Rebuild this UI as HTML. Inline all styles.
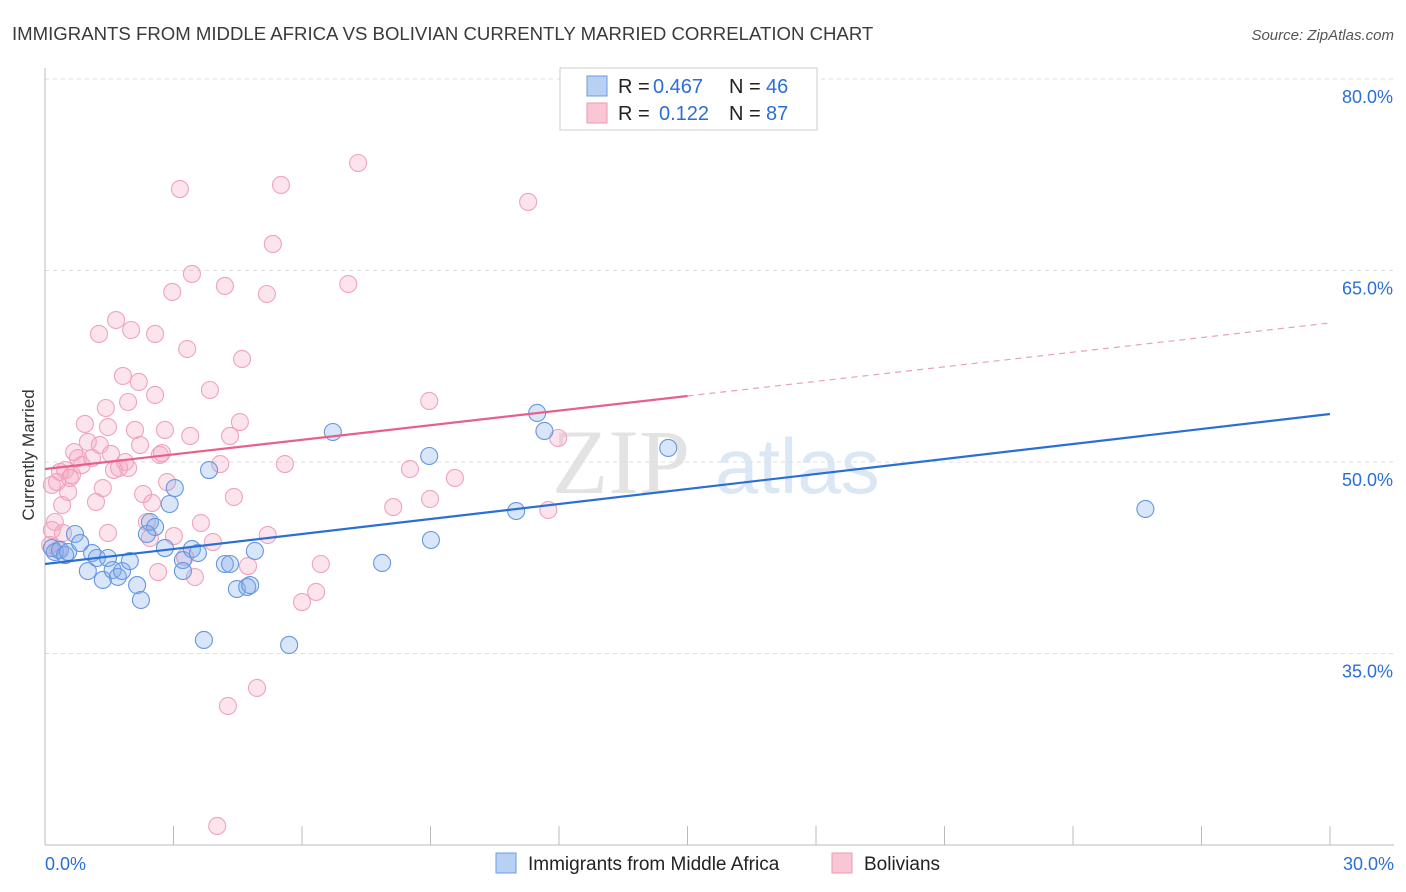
<!DOCTYPE html>
<html><head><meta charset="utf-8"><style>
body{margin:0;background:#fff;font-family:"Liberation Sans",sans-serif;}
svg{display:block}
</style></head><body>
<svg id="chart" width="1406" height="892">
<text x="12" y="40" font-size="18.6" fill="#3a3a3a">IMMIGRANTS FROM MIDDLE AFRICA VS BOLIVIAN CURRENTLY MARRIED CORRELATION CHART</text>
<text x="1394" y="40" font-size="15" fill="#555" font-style="italic" text-anchor="end">Source: ZipAtlas.com</text>
<text x="34" y="455" font-size="17" fill="#333" text-anchor="middle" transform="rotate(-90 34 455)">Currently Married</text>
<g>
<text x="552" y="493" font-size="92" fill="#d8d8d8" font-family="Liberation Serif,serif" opacity="0.7">ZIP</text>
<text x="715" y="493" font-size="78" fill="#c5d8f0" opacity="0.6">atlas</text>
</g>
<g id="grid"></g><g id="axes"></g><g id="pts"></g><g id="lines"></g>
<g>
<rect x="560" y="68" width="257" height="62" fill="#fff" stroke="#ccc"/>
<rect x="587" y="76" width="20" height="20" fill="#b8d0f4" stroke="#6a9de0"/>
<rect x="587" y="103" width="20" height="20" fill="#f8c6d5" stroke="#ee9ab5"/>
<text x="618" y="93" font-size="20" fill="#222">R =</text>
<text x="653" y="93" font-size="20" fill="#2a6fd6">0.467</text>
<text x="729" y="93" font-size="20" fill="#222">N =</text>
<text x="766" y="93" font-size="20" fill="#2a6fd6">46</text>
<text x="618" y="120" font-size="20" fill="#222">R =</text>
<text x="659" y="120" font-size="20" fill="#2a6fd6">0.122</text>
<text x="729" y="120" font-size="20" fill="#222">N =</text>
<text x="766" y="120" font-size="20" fill="#2a6fd6">87</text>
</g>
<g>
<rect x="496" y="853" width="20" height="20" fill="#b8d0f4" stroke="#6a9de0"/>
<text x="528" y="870" font-size="19" fill="#222">Immigrants from Middle Africa</text>
<rect x="832" y="853" width="20" height="20" fill="#f8c6d5" stroke="#ee9ab5"/>
<text x="864" y="870" font-size="19" fill="#222">Bolivians</text>
</g>
</svg>
<script>
const yTicks=[35,50,65,80];
const xTickLabels=["0.0%","30.0%"];
const blueX=[0.16,0.23,0.35,0.47,0.54,0.70,0.82,1.00,1.10,1.21,1.35,1.47,1.58,1.70,1.80,1.98,2.15,2.24,2.45,2.57,2.38,2.80,2.91,3.03,3.22,3.22,3.43,3.57,3.71,3.83,4.20,4.32,4.48,4.72,4.79,4.90,5.70,6.72,7.87,8.97,9.01,11.00,11.49,11.66,14.55,25.69];
const blueY=[43.26,42.95,43.11,42.71,42.95,44.36,43.65,41.46,42.87,42.48,40.76,42.48,41.54,41.00,41.46,42.24,40.36,39.19,45.30,44.91,44.36,43.26,46.71,47.96,42.32,41.46,43.18,42.87,36.06,49.37,42.01,42.01,40.05,40.21,40.36,43.03,35.67,52.35,42.09,50.47,43.89,46.16,53.84,52.43,51.10,46.32];
const pinkX=[0.12,0.16,0.23,0.16,0.28,0.35,0.40,0.47,0.54,0.58,0.68,0.77,0.86,0.93,1.00,1.10,1.19,1.26,1.28,1.35,1.42,1.47,1.54,1.61,1.66,1.73,1.82,1.87,1.94,1.94,2.01,2.10,2.19,2.22,2.29,2.38,2.45,2.50,2.57,2.64,2.68,2.73,2.80,2.85,3.01,3.15,3.27,3.32,3.39,3.43,3.50,3.64,3.85,3.92,4.02,4.09,4.20,4.27,4.32,4.41,4.55,4.60,4.74,4.95,5.18,5.20,5.32,5.51,5.60,6.00,6.33,6.44,7.08,7.31,8.13,8.52,8.99,8.97,9.57,11.28,11.75,11.98,2.97,2.57,1.47,0.42,0.30,0.63];
const pinkY=[43.50,44.67,45.30,48.20,48.43,49.22,46.63,49.37,47.65,48.75,50.78,50.31,49.76,52.98,51.57,50.31,46.87,60.03,51.33,47.96,54.23,44.44,50.63,49.37,61.12,49.53,56.74,50.00,54.70,49.53,60.34,52.51,56.27,51.33,47.49,45.30,44.05,46.79,60.03,41.38,50.55,50.70,52.51,48.43,44.20,71.38,42.56,58.85,52.04,64.73,40.99,45.22,55.64,43.73,21.49,49.84,63.79,30.89,52.04,47.26,53.13,58.07,41.85,32.30,63.16,44.28,67.08,71.70,49.84,39.03,39.82,42.01,63.94,73.42,46.47,49.45,47.10,54.78,48.75,70.37,46.24,51.88,63.32,55.25,52.74,44.44,43.11,48.98];
const blueFit=[42.01,53.76];
const pinkFit=[49.45,60.89];
const NS="http://www.w3.org/2000/svg";
const X=v=>45+v/30*1285;
const Y=v=>79+(80-v)/15*191.5;
function mk(tag,parent,attrs){const e=document.createElementNS(NS,tag);for(const k in attrs)e.setAttribute(k,attrs[k]);document.getElementById(parent).appendChild(e);return e;}
yTicks.forEach(t=>{
  const l=mk('line','grid',{x1:45,x2:1394,y1:Y(t),y2:Y(t),stroke:'#ddd','stroke-dasharray':'4 4'});
  
  
  const tx=mk('text','grid',{x:1393,y:Y(t)+24,'font-size':18,fill:'#2a6fd6','text-anchor':'end'});
  tx.textContent=t.toFixed(1)+'%';
  
  
});
const ya=mk('line','axes',{x1:45,x2:45,y1:68,y2:845,stroke:'#bbb'});


const xa=mk('line','axes',{x1:45,x2:1394,y1:845,y2:845,stroke:'#bbb'});


for(let i=0;i<=10;i++){
  const t=mk('line','axes',{x1:X(i*3),x2:X(i*3),y1:826,y2:845,stroke:'#bbb'});
  
  
}
[[0,'start',45],[30,'end',1394]].forEach((d,i)=>{
  const tx=mk('text','axes',{x:d[2],y:870,'font-size':18,fill:'#2a6fd6','text-anchor':d[1]});
  tx.textContent=xTickLabels[i];
  
  
});
pinkX.forEach((x,i)=>{
  const c=mk('circle','pts',{cx:X(x),cy:Y(pinkY[i]),r:8.5,fill:'rgba(244,165,192,0.3)',stroke:'#efa3bc','stroke-width':1.1});
  
  
});
blueX.forEach((x,i)=>{
  const c=mk('circle','pts',{cx:X(x),cy:Y(blueY[i]),r:8.5,fill:'rgba(130,172,236,0.3)',stroke:'#6596e0','stroke-width':1.1});
  
  
});
const bl=mk('line','lines',{x1:X(0),y1:Y(blueFit[0]),x2:X(30),y2:Y(blueFit[1]),stroke:'#2a6fd6','stroke-width':2.2});


const pm=pinkFit[0]+(pinkFit[1]-pinkFit[0])/2;
const pl=mk('line','lines',{x1:X(0),y1:Y(pinkFit[0]),x2:X(15),y2:Y(pm),stroke:'#e8608a','stroke-width':2.2});


const pd=mk('line','lines',{x1:X(15),y1:Y(pm),x2:X(30),y2:Y(pinkFit[1]),stroke:'#e8a0b8','stroke-width':1.2,'stroke-dasharray':'6 5'});


</script>
</body></html>
